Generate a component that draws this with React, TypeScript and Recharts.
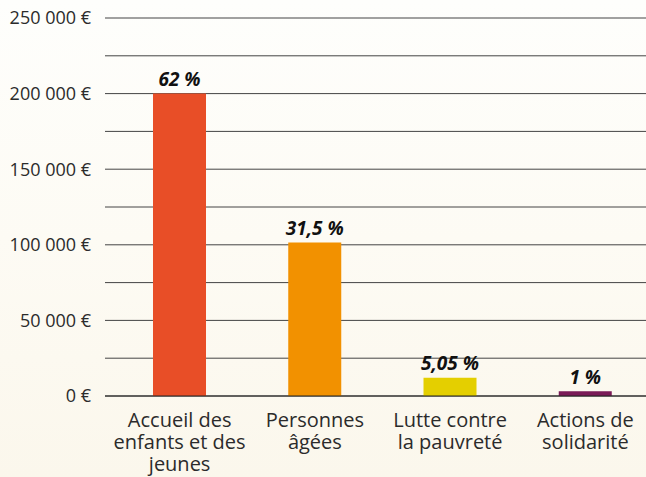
import React from 'react'
import { BarChart, Bar, XAxis, YAxis, CartesianGrid, Cell, LabelList } from 'recharts'

const CATEGORIES = ['Accueil des\nenfants et des\njeunes', 'Personnes\nâgées', 'Lutte contre\nla pauvreté', 'Actions de\nsolidarité']
const AMOUNTS = [200000, 101600, 12000, 3200]
const PERCENTS = ['62 %', '31,5 %', '5,05 %', '1 %']
const COLORS = ['#e84e27', '#f29100', '#e4cf00', '#7a1a57']
const Y_TICKS = [0, 25000, 50000, 75000, 100000, 125000, 150000, 175000, 200000, 225000, 250000]

const data = CATEGORIES.map((name, i) => ({ name, montant: AMOUNTS[i], pct: PERCENTS[i] }))

const FONT = '"Open Sans", sans-serif'

const formatEuro = (v: number) => {
    if (v % 50000 !== 0) return ''
    if (v === 0) return '0 €'
    return `${String(v / 1000)} 000 €`
}

function CategoryTick(props: any) {
    const { x, y, payload } = props
    const lines = String(payload.value).split('\n')
    return (
        <text x={x} y={y} textAnchor="middle" fill="#2b2b2b" fontSize={20} fontFamily={FONT}>
            {lines.map((l, i) => (
                <tspan key={i} x={x} dy={i === 0 ? 30.5 : 22}>{l}</tspan>
            ))}
        </text>
    )
}

function PctLabel(props: any) {
    const { x, y, width, value } = props
    return (
        <text x={Number(x) + Number(width) / 2} y={Number(y) - 7.5} textAnchor="middle"
            fill="#111" fontSize={19} fontWeight={700} fontStyle="italic" fontFamily={FONT}>
            {value}
        </text>
    )
}

export default function App() {
    return (
        <div style={{
            position: 'absolute', left: 0, top: 0, width: 646, height: 477, overflow: 'hidden',
            background: 'linear-gradient(to bottom, #fefefc 0%, #fdfbf4 50%, #fbf7ec 100%)'
        }}>
            <BarChart width={653} height={477} data={data} margin={{ top: 18, right: 0, bottom: 0, left: 0 }}>
                <CartesianGrid vertical={false} stroke="#444" strokeWidth={1} />
                <XAxis
                    dataKey="name"
                    height={81}
                    interval={0}
                    padding={{ left: 7, right: 0 }}
                    axisLine={{ stroke: '#222' }}
                    tickLine={false}
                    tickSize={0}
                    tickMargin={0}
                    tick={<CategoryTick />}
                />
                <YAxis
                    width={105}
                    domain={[0, 250000]}
                    ticks={Y_TICKS}
                    interval={0}
                    axisLine={false}
                    tickLine={false}
                    tickSize={0}
                    tickMargin={14}
                    tickFormatter={formatEuro}
                    tick={{ fontSize: 18, fill: '#2b2b2b', fontFamily: FONT }}
                />
                <Bar dataKey="montant" barSize={53} isAnimationActive={false}>
                    {data.map((d, i) => (
                        <Cell key={`cell-${i}`} fill={COLORS[i]} />
                    ))}
                    <LabelList dataKey="pct" content={<PctLabel />} />
                </Bar>
            </BarChart>
        </div>
    )
}
